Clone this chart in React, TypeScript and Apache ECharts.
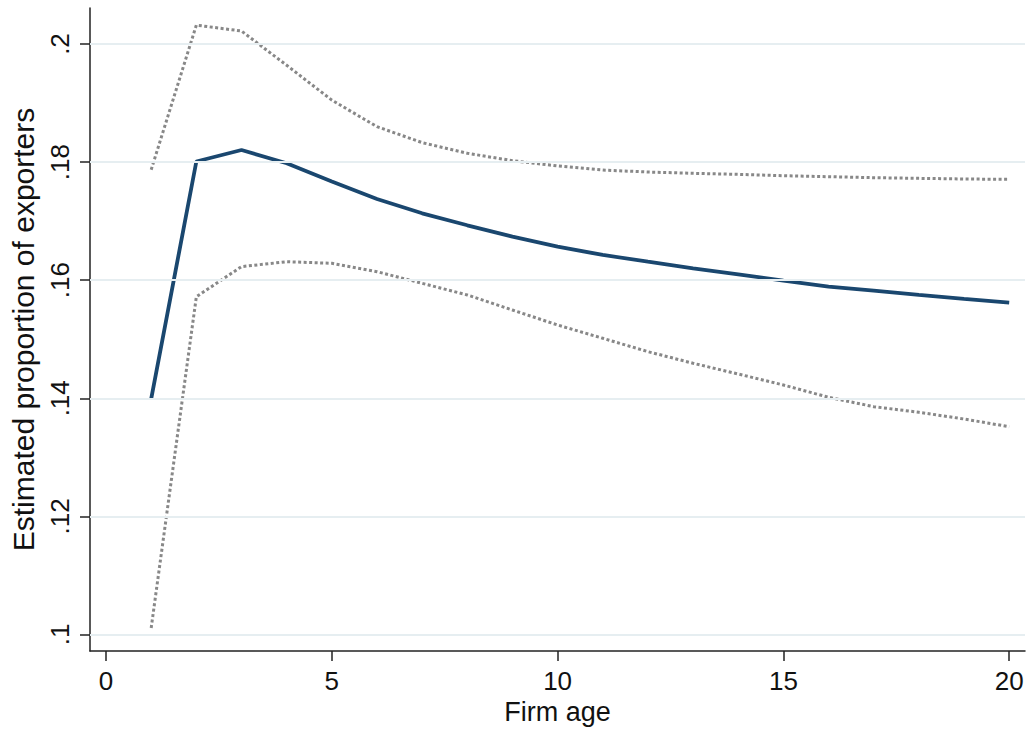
import React, { useEffect, useRef } from "react";
import * as echarts from "echarts";

const firmAge = [1, 2, 3, 4, 5, 6, 7, 8, 9, 10, 11, 12, 13, 14, 15, 16, 17, 18, 19, 20];
const estimate = [0.1399, 0.1801, 0.18205, 0.1798, 0.1767, 0.17375, 0.17133, 0.1693, 0.16737, 0.16568, 0.16427, 0.16313, 0.16202, 0.161, 0.15992, 0.1589, 0.15822, 0.1575, 0.15682, 0.15619];
const upperCI = [0.1787, 0.2032, 0.2022, 0.1964, 0.1905, 0.186, 0.1833, 0.1815, 0.18024, 0.17935, 0.17866, 0.17832, 0.1781, 0.17793, 0.1777, 0.17753, 0.17736, 0.17725, 0.17714, 0.17708];
const lowerCI = [0.1011, 0.1572, 0.1623, 0.16313, 0.16286, 0.16144, 0.15947, 0.1575, 0.15495, 0.15241, 0.15016, 0.1479, 0.14593, 0.14411, 0.14225, 0.14017, 0.13858, 0.13763, 0.13649, 0.13519];
const xTicks = [0, 5, 10, 15, 20];
const yTicks = [0.1, 0.12, 0.14, 0.16, 0.18, 0.2];

const FONT = "'Liberation Sans', Arial, Helvetica, sans-serif";
const fmtY = (v: number) => {
  const s = String(Math.round(v * 100) / 100);
  return s.startsWith("0") ? s.slice(1) : s;
};

export default function App() {
  const ref = useRef<HTMLDivElement>(null);
  useEffect(() => {
    document.body.style.margin = "0";
    const chart = echarts.init(ref.current!, null, { renderer: "svg" });
    const pairs = (ys: number[]) => firmAge.map((x, i) => [x, ys[i]]);
    chart.setOption({
      animation: false,
      backgroundColor: "#ffffff",
      grid: { left: 90, right: 5, top: 8, bottom: 82, containLabel: false },
      xAxis: {
        type: "value",
        min: -0.355,
        max: 20.35,
        name: "Firm age",
        nameLocation: "middle",
        nameGap: 46,
        nameTextStyle: { fontFamily: FONT, fontSize: 27, color: "#111" },
        axisLine: { show: true, onZero: false, lineStyle: { color: "#222", width: 1.5 } },
        axisTick: { show: true, length: 10, customValues: xTicks, lineStyle: { color: "#222", width: 1.5 } },
        axisLabel: { customValues: xTicks, fontFamily: FONT, fontSize: 26, color: "#111", margin: 17 },
        splitLine: { show: false },
      },
      yAxis: {
        type: "value",
        min: 0.0972,
        max: 0.2061,
        name: "Estimated proportion of exporters",
        nameLocation: "middle",
        nameGap: 52,
        nameTextStyle: { fontFamily: FONT, fontSize: 30, color: "#111" },
        axisLine: { show: true, onZero: false, lineStyle: { color: "#222", width: 1.5 } },
        axisTick: { show: true, length: 10, customValues: yTicks, lineStyle: { color: "#222", width: 1.5 } },
        axisLabel: {
          customValues: yTicks,
          rotate: 90,
          fontFamily: FONT,
          fontSize: 26,
          color: "#111",
          margin: 17,
          formatter: (v: number) => fmtY(v),
        },
        splitLine: { show: false },
      },
      series: [
        {
          type: "line",
          data: [],
          z: 1,
          silent: true,
          markLine: {
            silent: true,
            symbol: ["none", "none"],
            label: { show: false },
            lineStyle: { color: "#e6eef1", width: 2, type: "solid" },
            data: yTicks.map((v) => ({ yAxis: v })),
          },
        },
        {
          type: "line",
          data: pairs(upperCI),
          z: 3,
          showSymbol: false,
          lineStyle: { color: "#888888", width: 3, type: [3, 2.5], cap: "butt" },
        },
        {
          type: "line",
          data: pairs(lowerCI),
          z: 3,
          showSymbol: false,
          lineStyle: { color: "#888888", width: 3, type: [3, 2.5], cap: "butt" },
        },
        {
          type: "line",
          data: pairs(estimate),
          z: 4,
          showSymbol: false,
          lineStyle: { color: "#1a476f", width: 3.8 },
        },
      ],
    });
    return () => chart.dispose();
  }, []);
  return <div ref={ref} style={{ width: 1030, height: 733 }} />;
}
